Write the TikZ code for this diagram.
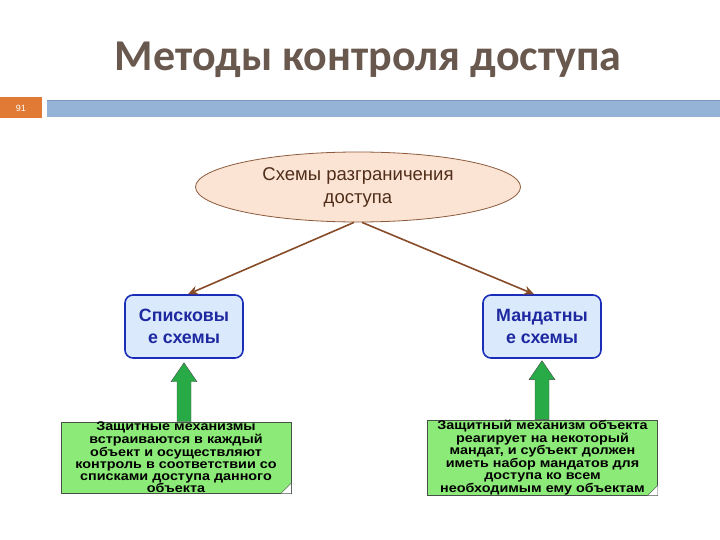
\documentclass[tikz,border=0pt]{standalone}
\usepackage{fontspec}
\setmainfont{Liberation Sans}
\newfontfamily\titlefont{Carlito}
\usetikzlibrary{shapes.geometric, arrows.meta, positioning}
\definecolor{titlegray}{RGB}{105,88,78}
\definecolor{slideorange}{RGB}{224,122,52}
\definecolor{barblue}{RGB}{148,179,214}
\definecolor{barline}{RGB}{120,150,190}
\definecolor{ovalfill}{RGB}{251,228,212}
\definecolor{ovalline}{RGB}{140,90,60}
\definecolor{ovaltext}{RGB}{80,45,25}
\definecolor{arrowbrown}{RGB}{135,75,40}
\definecolor{boxfill}{RGB}{218,234,252}
\definecolor{boxline}{RGB}{25,45,185}
\definecolor{boxtext}{RGB}{30,40,160}
\definecolor{notefill}{RGB}{140,234,120}
\definecolor{noteline}{RGB}{70,80,70}
\definecolor{foldfill}{RGB}{95,190,85}
\definecolor{arrowgreen}{RGB}{40,170,70}

\begin{document}
\begin{tikzpicture}[
        x=1pt, y=-1pt,
        ovalbox/.style={ellipse, draw=ovalline, thick, fill=ovalfill, minimum width=325pt, minimum height=70pt, inner sep=0pt, align=center, text=ovaltext, font=\fontsize{18.5}{23}\selectfont},
        schemebox/.style={rectangle, rounded corners=8pt, draw=boxline, line width=1.6pt, fill=boxfill, minimum width=118pt, minimum height=63pt, align=center, text=boxtext, font=\bfseries\fontsize{17.8}{22}\selectfont},
        notebox/.style={rectangle, draw=noteline, fill=notefill, minimum width=230pt, minimum height=71pt, inner sep=0pt, align=center, font=\bfseries\addfontfeature{FakeStretch=1.14}\fontsize{12.6}{11.8}\selectfont},
        brownarrow/.style={-{Stealth[length=10pt, width=9pt]}, line width=1.6pt, draw=arrowbrown},
        greenarrow/.style={draw=noteline, fill=arrowgreen}
    ]
    \useasboundingbox (0,0) rectangle (720,540);

    % Title and slide bar
    \node (title) at (368,60) {\titlefont\bfseries\fontsize{44}{52}\selectfont\color{titlegray}Методы контроля доступа};
    \fill[slideorange] (0,97) rectangle (42,118);
    \node (pagenum) at (21,108) {\fontsize{9}{10}\selectfont\color{white}91};
    \fill[barblue] (47,100) rectangle (720,117);
    \draw[barline] (47,100.5) -- (720,100.5);

    % The oval and the two schemes
    \node (schemes) [ovalbox] at (358,187) {Схемы разграничения\\доступа};
    \node (lists) [schemebox] at (184,326.5) {Списковы\\е схемы};
    \node (mandates) [schemebox] at (542,326.5) {Мандатны\\е схемы};

    % Arrows from the oval
    \draw [brownarrow] ([xshift=-4pt]schemes.south) -- ([xshift=4pt]lists.north);
    \draw [brownarrow] ([xshift=4pt]schemes.south) -- ([xshift=-8pt]mandates.north);

    % The notes
    \node (listnote) [notebox] at (176,457.5) {Защитные механизмы\\встраиваются в каждый\\объект и осуществляют\\контроль в соответствии со\\списками доступа данного\\объекта};
    \node (mandnote) [notebox] at (542.5,457.5) {Защитный механизм объекта\\реагирует на некоторый\\мандат, и субъект должен\\иметь набор мандатов для\\доступа ко всем\\необходимым ему объектам};

    % Folded corners
    \foreach \n in {listnote, mandnote} {
        \fill[white] ([xshift=-10pt]\n.south east) -- (\n.south east) -- ([yshift=10pt]\n.south east) -- cycle;
        \filldraw[fill=foldfill, draw=noteline] ([xshift=-10pt]\n.south east) -- ([yshift=10pt]\n.south east) -- ([shift={(-7pt,3pt)}]\n.south east) -- cycle;
    }

    % Green arrows up to the schemes
    \foreach \b/\n in {lists/listnote, mandates/mandnote} {
        \draw [greenarrow] (\b.south |- \n.north) ++(-7,0) -- ++(0,-40) -- ++(-6,0) -- ++(13,-19) -- ++(13,19) -- ++(-6,0) -- ++(0,40) -- cycle;
    }

\end{tikzpicture}
\end{document}
